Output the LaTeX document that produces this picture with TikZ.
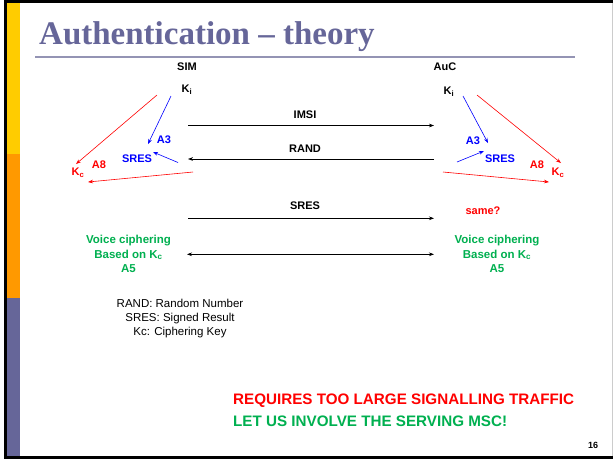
\documentclass[tikz,border=0pt]{standalone}
\usepackage{fontspec}
\setmainfont{Liberation Sans}
\newfontfamily\titlefont{Liberation Serif}
\usetikzlibrary{arrows.meta}
\definecolor{ttl}{HTML}{666699}
\definecolor{rulec}{HTML}{9494B4}
\definecolor{baryel}{HTML}{FFCC00}
\definecolor{barora}{HTML}{FF9900}
\definecolor{barpur}{HTML}{666699}
\definecolor{gr}{HTML}{00B050}
\definecolor{rd}{HTML}{FF0000}
\definecolor{bl}{HTML}{0000FF}
\begin{document}
\begin{tikzpicture}[x=1pt,y=-1pt,
  lbl/.style={font=\fontsize{11}{13}\selectfont\bfseries, inner sep=0pt},
  grn/.style={font=\fontsize{11.5}{14.3}\selectfont\bfseries, text=gr, align=center, inner sep=0pt},
  msg/.style={line width=0.6pt, -{Stealth[length=5pt,width=3.6pt]}},
  dmsg/.style={line width=0.6pt, {Stealth[length=5pt,width=3.6pt]}-{Stealth[length=5pt,width=3.6pt]}},
  redarr/.style={rd, line width=0.6pt, -{Stealth[length=5pt,width=3.6pt]}},
  bluarr/.style={bl, line width=0.6pt, -{Stealth[length=5pt,width=3.6pt]}}]
\useasboundingbox (0,0) rectangle (613,459);
\fill[white] (0,0) rectangle (613,459);
% side bars and frame
\fill[baryel] (7,3) rectangle (20,154);
\fill[barora] (7,154) rectangle (20,298);
\fill[barpur] (7,298) rectangle (20,456);
\fill[black] (4,0) rectangle (613,3);
\fill[black] (4,0) rectangle (7,459);
\fill[black] (4,456) rectangle (613,459);
\draw[black!20, line width=0.8pt] (612,3) -- (612,456);
% title
\node[anchor=base west, inner sep=0pt, text=ttl, font=\titlefont\bfseries\fontsize{33}{38}\selectfont] (title) at (39,44.5) {Authentication – theory};
\draw[rulec, line width=1.6pt] (35,57) -- (575,57);
% heads
\node[lbl] (sim) at (187,67) {SIM};
\node[lbl] (auc) at (445,67) {AuC};
\node[lbl] (kiL) at (187,90) {K\textsubscript{i}};
\node[lbl] (kiR) at (449,92) {K\textsubscript{i}};
% messages
\coordinate (imsiL) at (188,125.5);
\coordinate (imsiR) at (434,125.5);
\coordinate (randL) at (188,159);
\coordinate (randR) at (434,159);
\coordinate (sresL) at (188,218.3);
\coordinate (sresR) at (434,218.3);
\coordinate (vcL) at (187,254.3);
\coordinate (vcR) at (434,254.3);
\node[lbl] (imsi) at (305,115) {IMSI};
\node[lbl] (rand) at (305,149) {RAND};
\node[lbl] (sres) at (305,206) {SRES};
\draw[msg] (imsiL) -- (imsiR);
\draw[msg] (randR) -- (randL);
\draw[msg] (sresL) -- (sresR);
\draw[dmsg] (vcL) -- (vcR);
% left side (SIM)
\node[lbl, text=bl] (a3L) at (164,140) {A3};
\node[lbl, text=bl] (sresbL) at (137,158.5) {SRES};
\node[lbl, text=rd] (a8L) at (99,164.5) {A8};
\node[lbl, text=rd] (kcL) at (78,173) {K\textsubscript{c}};
\coordinate (lr1) at (157,95);
\coordinate (lr2) at (76,164);
\coordinate (lb1) at (171,96);
\coordinate (lb2) at (148,144);
\coordinate (lb3) at (178,162.5);
\coordinate (lb4) at (153,152);
\coordinate (lr3) at (193,172);
\coordinate (lr4) at (88,182);
\draw[redarr] (lr1) -- (lr2);
\draw[bluarr] (lb1) -- (lb2);
\draw[bluarr] (lb3) -- (lb4);
\draw[redarr] (lr3) -- (lr4);
% right side (AuC)
\node[lbl, text=bl] (a3R) at (473,140.5) {A3};
\node[lbl, text=bl] (sresbR) at (500,159) {SRES};
\node[lbl, text=rd] (a8R) at (537,165) {A8};
\node[lbl, text=rd] (kcR) at (558,173) {K\textsubscript{c}};
\coordinate (rb1) at (463,96);
\coordinate (rb2) at (488,143);
\coordinate (rb3) at (457,162);
\coordinate (rb4) at (484,151);
\coordinate (rr1) at (477,95);
\coordinate (rr2) at (561,163);
\coordinate (rr3) at (443,172);
\coordinate (rr4) at (549,182);
\draw[bluarr] (rb1) -- (rb2);
\draw[bluarr] (rb3) -- (rb4);
\draw[redarr] (rr1) -- (rr2);
\draw[redarr] (rr3) -- (rr4);
\node[lbl, text=rd] (same) at (483,211) {same?};
% voice ciphering
\node[grn] (vL) at (128.5,254) {Voice ciphering\\Based on K\textsubscript{c}\\A5};
\node[grn] (vR) at (497,254) {Voice ciphering\\Based on K\textsubscript{c}\\A5};
% legend
\node[align=center, inner sep=0pt, font=\fontsize{11.5}{14}\selectfont] (legend) at (180,319) {RAND: Random Number\\SRES: Signed Result\\Kc: Ciphering Key};
% bottom notes
\node[anchor=west, inner sep=0pt, text=rd, font=\fontsize{15.2}{18}\selectfont\bfseries] (req) at (233,400.7) {REQUIRES TOO LARGE SIGNALLING TRAFFIC};
\node[anchor=west, inner sep=0pt, text=gr, font=\fontsize{15.2}{18}\selectfont\bfseries] (let) at (233,421.7) {LET US INVOLVE THE SERVING MSC!};
\node[inner sep=0pt, font=\fontsize{9}{11}\selectfont\bfseries] (pg) at (593,445) {16};
\end{tikzpicture}
\end{document}
